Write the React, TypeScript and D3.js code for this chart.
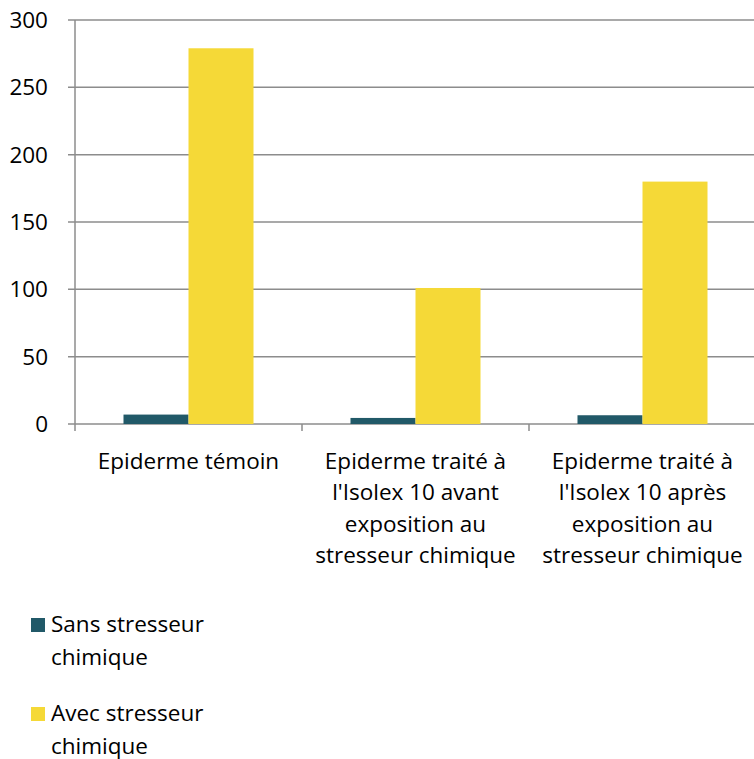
import * as d3 from "d3";

const categories = [
  ["Epiderme témoin"],
  ["Epiderme traité à", "l'Isolex 10 avant", "exposition au", "stresseur chimique"],
  ["Epiderme traité à", "l'Isolex 10 après", "exposition au", "stresseur chimique"],
];
const seriesNames = ["Sans stresseur chimique", "Avec stresseur chimique"];
const legendLines = [
  ["Sans stresseur", "chimique"],
  ["Avec stresseur", "chimique"],
];
const sansValues = [7, 4.5, 6.5];
const avecValues = [279, 101, 180];
const yTicks = [0, 50, 100, 150, 200, 250, 300];

const colors = ["#215968", "#F5D937"];
const font = "'Open Sans', sans-serif";

export default function App() {
  const width = 754;
  const height = 759;
  const margin = { left: 75, top: 20, bottom: 335 };
  const innerW = 681;
  const innerH = height - margin.top - margin.bottom;

  const x = d3
    .scaleBand<number>()
    .domain(categories.map((_, i) => i))
    .range([0, innerW]);
  const inner = d3
    .scaleBand<number>()
    .domain([0, 1])
    .range([0, x.bandwidth()])
    .paddingOuter(0.746)
    .paddingInner(0);
  const y = d3.scaleLinear().domain([0, 300]).range([innerH, 0]);
  const series = [sansValues, avecValues];

  return (
    <svg width={width} height={height} style={{ display: "block", position: "absolute", left: 0, top: 0 }}>
      <rect width={width} height={height} fill="#fff" />
      <g transform={`translate(${margin.left},${margin.top})`}>
        {yTicks.map((t) => (
          <g key={t}>
            <line x1={-7} x2={innerW} y1={y(t)} y2={y(t)} stroke="#8c8c8c" strokeWidth={1.5} />
            <text
              x={-27}
              y={y(t)}
              dy="0.36em"
              textAnchor="end"
              fontFamily={font}
              fontSize={22.5}
              fill="#000"
            >
              {t}
            </text>
          </g>
        ))}
        <line x1={0} x2={0} y1={0} y2={innerH + 7} stroke="#8c8c8c" strokeWidth={1.5} />
        {categories.map((_, i) => (
          <line
            key={i}
            x1={x(i)! + x.bandwidth()}
            x2={x(i)! + x.bandwidth()}
            y1={innerH}
            y2={innerH + 7}
            stroke="#8c8c8c"
            strokeWidth={1.5}
          />
        ))}
        {series.map((vals, s) =>
          vals.map((v, i) => (
            <rect
              key={`${s}-${i}`}
              x={x(i)! + inner(s)!}
              y={y(v)}
              width={inner.bandwidth()}
              height={innerH - y(v)}
              fill={colors[s]}
            />
          ))
        )}
        {categories.map((lines, i) => (
          <text
            key={i}
            x={x(i)! + x.bandwidth() / 2}
            y={innerH + 45}
            textAnchor="middle"
            fontFamily={font}
            fontSize={22.5}
            fill="#000"
          >
            {lines.map((l, k) => (
              <tspan key={k} x={x(i)! + x.bandwidth() / 2} dy={k === 0 ? 0 : 31.3}>
                {l}
              </tspan>
            ))}
          </text>
        ))}
      </g>
      {seriesNames.map((name, s) => (
        <g key={name} transform={`translate(31,${618 + s * 89})`}>
          <rect width={14} height={14} fill={colors[s]} />
          <text x={20} y={14} fontFamily={font} fontSize={22.5} fill="#000">
            {legendLines[s].map((l, k) => (
              <tspan key={k} x={20} dy={k === 0 ? 0 : 32.5}>
                {l}
              </tspan>
            ))}
          </text>
        </g>
      ))}
    </svg>
  );
}
